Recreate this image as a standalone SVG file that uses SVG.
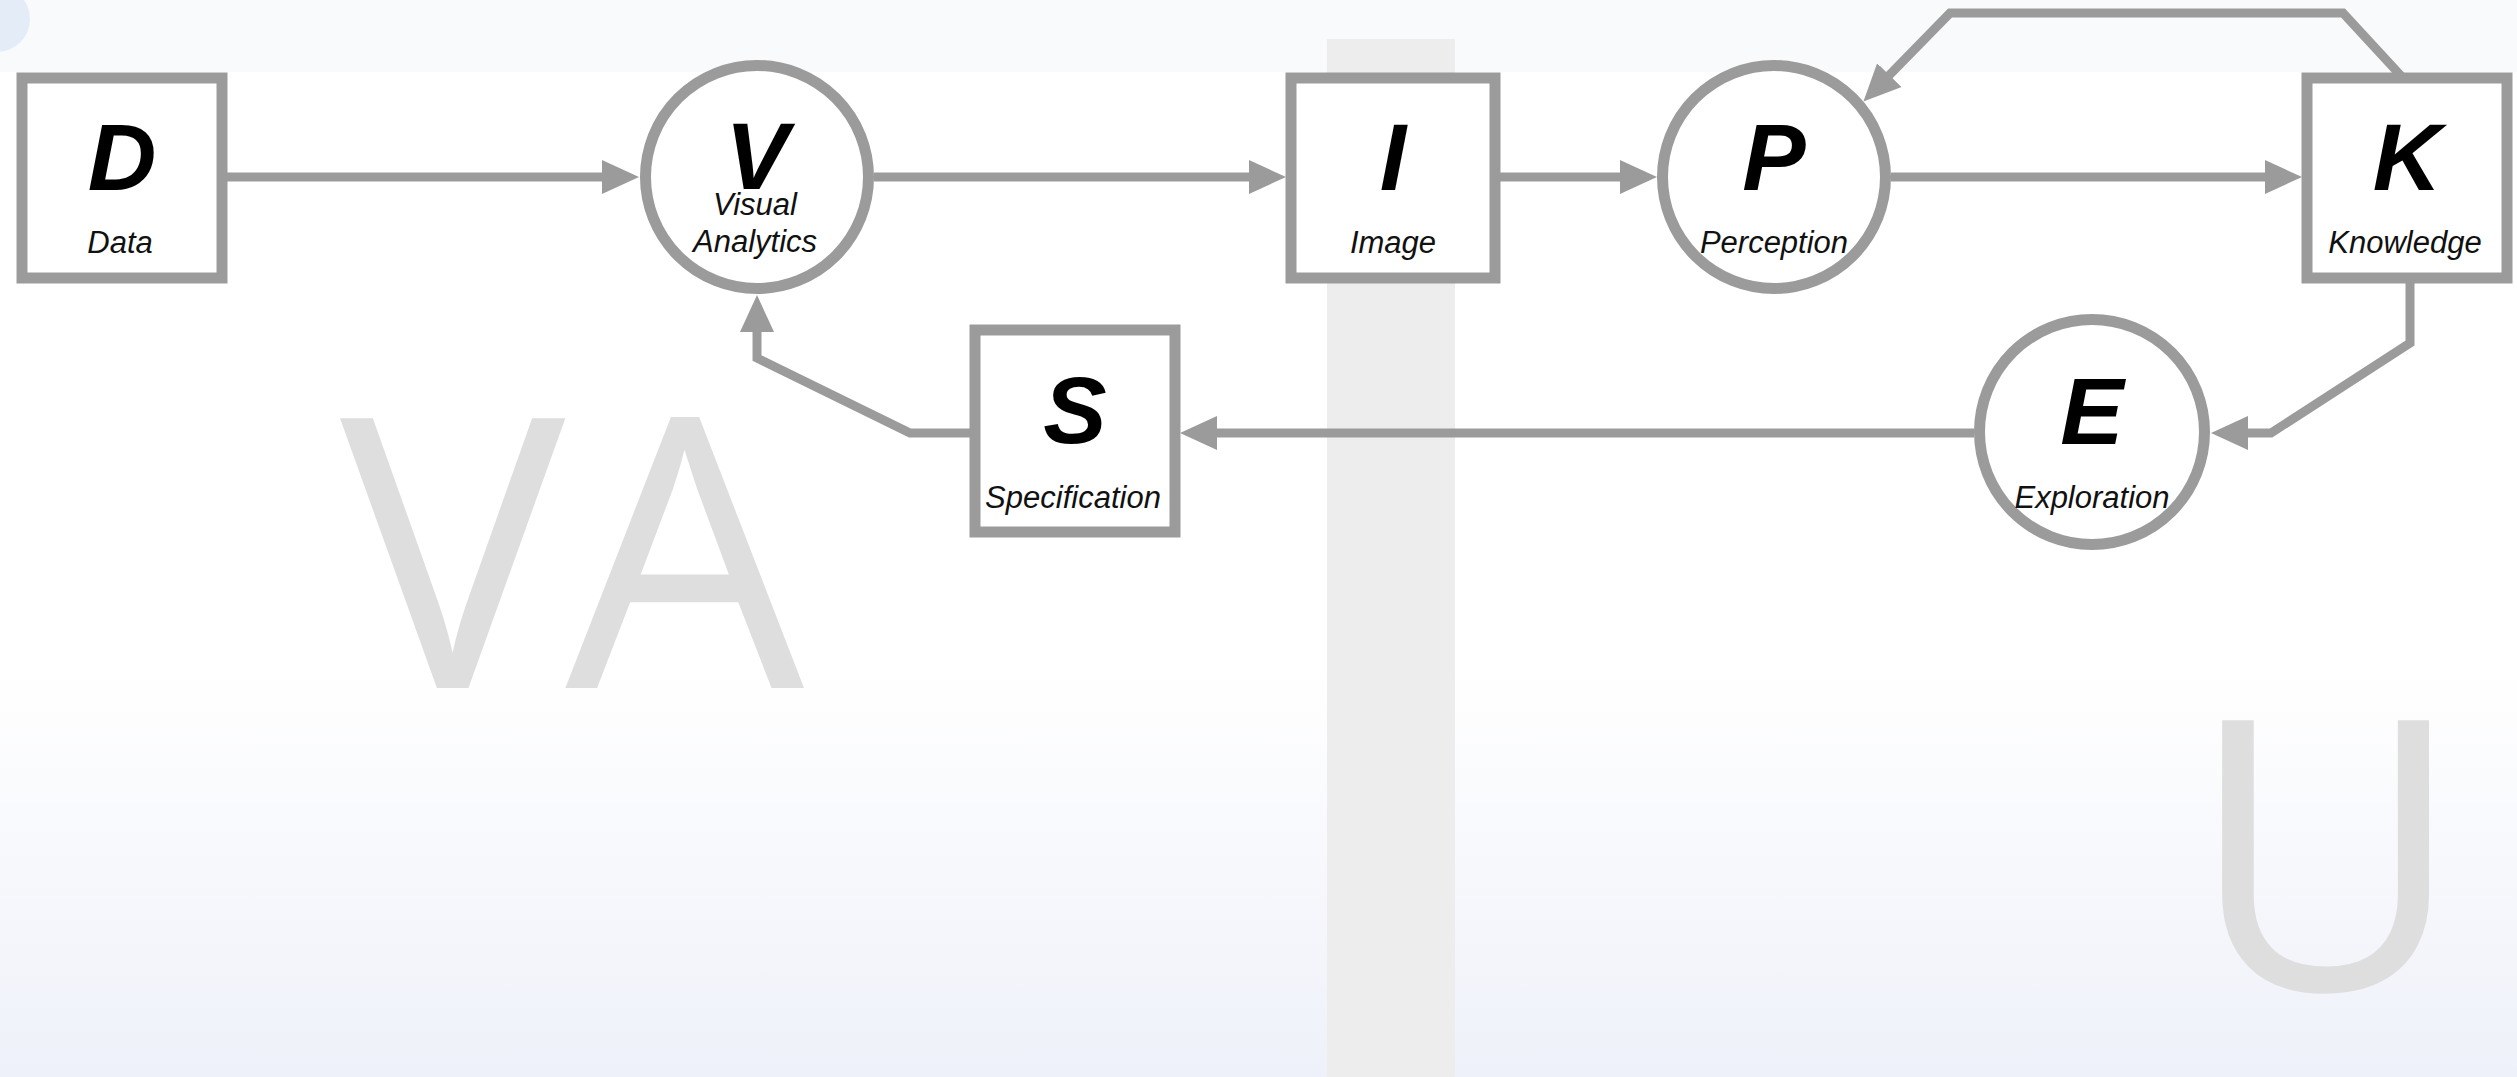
<svg xmlns="http://www.w3.org/2000/svg" width="2517" height="1077" viewBox="0 0 2517 1077">
<defs>
<linearGradient id="bg" x1="0" y1="0" x2="0" y2="1077" gradientUnits="userSpaceOnUse">
<stop offset="0" stop-color="#ffffff"/>
<stop offset="0.62" stop-color="#ffffff"/>
<stop offset="1" stop-color="#eef1f9"/>
</linearGradient>
<marker id="ah" markerUnits="userSpaceOnUse" viewBox="0 0 37 34" markerWidth="37" markerHeight="34" refX="1" refY="17" orient="auto">
<path d="M0,0 L37,17 L0,34 z" fill="#9b9b9b"/>
</marker>
<style>
.node{fill:#ffffff;stroke:#9b9b9b;stroke-width:11}
.conn{fill:none;stroke:#9b9b9b;stroke-width:9;stroke-linejoin:miter}
.big{font-family:"Liberation Sans",Arial,sans-serif;font-weight:bold;font-style:italic;font-size:95px;fill:#000000;text-anchor:middle}
.lbl{font-family:"Liberation Sans",Arial,sans-serif;font-style:italic;font-size:31px;fill:#111111;text-anchor:middle}
.wm{font-family:"Open Sans","Liberation Sans",sans-serif;font-size:378px;fill:#dedede}
</style>
</defs>
<rect x="0" y="0" width="2517" height="1077" fill="url(#bg)"/>
<rect x="0" y="0" width="2517" height="72" fill="#f9fafc"/>
<circle cx="-3" cy="19" r="33" fill="#e4edf7"/>
<rect x="1327" y="39" width="128" height="1038" fill="#ededed"/>
<text class="wm" x="340" y="688">VA</text>
<text class="wm" x="2188" y="990">U</text>
<g id="connectors">
<path class="conn" d="M227,177 L603,177" marker-end="url(#ah)"/>
<path class="conn" d="M874,177 L1250,177" marker-end="url(#ah)"/>
<path class="conn" d="M1500,177 L1621,177" marker-end="url(#ah)"/>
<path class="conn" d="M1891,177 L2266,177" marker-end="url(#ah)"/>
<path class="conn" d="M2403,78 L2343,13 L1950,13 L1888.6,75.8" marker-end="url(#ah)"/>
<path class="conn" d="M2410,283 L2410,343 L2271,433 L2247,433" marker-end="url(#ah)"/>
<path class="conn" d="M1974,433 L1216,433" marker-end="url(#ah)"/>
<path class="conn" d="M970,433 L910,433 L757,358 L757,331" marker-end="url(#ah)"/>
</g>
<g id="node-D">
<rect class="node" x="22" y="78" width="200" height="200"/>
<text class="big" x="122" y="190">D</text>
<text class="lbl" x="120" y="253">Data</text>
</g>
<g id="node-V">
<circle class="node" cx="757" cy="177" r="111.5"/>
<text class="big" x="757" y="189">V</text>
<text class="lbl" x="755" y="215">Visual</text>
<text class="lbl" x="755" y="252">Analytics</text>
</g>
<g id="node-I">
<rect class="node" x="1291" y="78" width="204" height="200"/>
<text class="big" x="1393" y="190">I</text>
<text class="lbl" x="1393" y="253">Image</text>
</g>
<g id="node-P">
<circle class="node" cx="1774" cy="177" r="111.5"/>
<text class="big" x="1774" y="190">P</text>
<text class="lbl" x="1774" y="253">Perception</text>
</g>
<g id="node-K">
<rect class="node" x="2307" y="78" width="200" height="200"/>
<text class="big" x="2407" y="190">K</text>
<text class="lbl" x="2405" y="253">Knowledge</text>
</g>
<g id="node-S">
<rect class="node" x="975" y="330" width="200" height="202"/>
<text class="big" x="1075" y="443">S</text>
<text class="lbl" x="1073" y="508">Specification</text>
</g>
<g id="node-E">
<circle class="node" cx="2092" cy="432" r="112.5"/>
<text class="big" x="2092" y="444">E</text>
<text class="lbl" x="2092" y="508">Exploration</text>
</g>
</svg>
